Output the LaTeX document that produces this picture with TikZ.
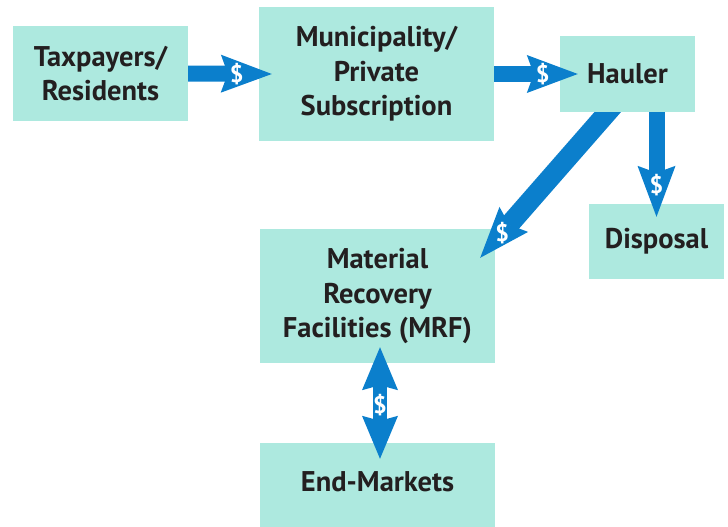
\documentclass[tikz,border=0pt]{standalone}
\usepackage{fontspec}
\setmainfont{PT Sans}
\usetikzlibrary{arrows.meta}
\definecolor{boxfill}{HTML}{ADE9DF}
\definecolor{flowblue}{HTML}{0B7FCC}
\definecolor{ink}{HTML}{231F20}
\tikzset{
  box/.style={fill=boxfill, draw=none, inner sep=0pt, align=center, text=ink,
    font=\fontsize{28.5}{34.5}\selectfont\bfseries},
  flow/.style={draw=flowblue, line width=16pt, -{Stealth[length=51pt, width=38pt, inset=7pt, line width=0pt, fill=flowblue]}},
  dollar/.style={text=white, font=\fontsize{24}{24}\selectfont\bfseries, inner sep=0pt},
}
\begin{document}
\begin{tikzpicture}[x=1pt, y=-1pt]
\useasboundingbox (0,0) rectangle (728,527);
\coordinate (origin) at (0,0);
\coordinate (corner) at (728,527);
% boxes
\node[box, minimum width=175pt, minimum height=95pt] (tax) at (100.5,73.5) {Taxpayers/\\Residents};
\node[box, minimum width=235pt, minimum height=134pt] (muni) at (376.5,74) {Municipality/\\Private\\Subscription};
\node[box, minimum width=135pt, minimum height=76pt] (hauler) at (627.5,74) {Hauler};
\node[box, minimum width=135pt, minimum height=75pt] (disp) at (656.5,241.5) {Disposal};
\node[box, minimum width=235pt, minimum height=134pt] (mrf) at (377.5,296) {Material\\Recovery\\Facilities (MRF)};
\node[box, minimum width=235pt, minimum height=78pt] (end) at (377.5,482) {End-Markets};
\fill[boxfill] (end.south west) rectangle ([yshift=-12pt]end.south east);
% connectors
\draw[flow] (tax.east) -- ([xshift=13pt]muni.west) node[dollar, pos=0.58] (d1) {\$};
\draw[flow] (muni.east) -- ([xshift=18pt]hauler.west) node[dollar, pos=0.58] (d2) {\$};
\draw[flow] (hauler.south -| disp.north) -- ([yshift=-13pt]disp.north) node[dollar, pos=0.695] (d4) {\$};
\begin{scope}
  \clip (hauler.south -| origin) rectangle (corner);
  \draw[flow, line width=20pt] ([xshift=-6.8pt, yshift=15pt]hauler.south) -- ([xshift=-15pt, yshift=-29pt]mrf.north east) node[dollar, pos=0.844] (d3) {\$};
\end{scope}
\draw[draw=flowblue, line width=14pt,
  {Stealth[length=43pt, width=36pt, inset=5pt, line width=0pt, fill=flowblue]}-{Stealth[length=43pt, width=36pt, inset=5pt, line width=0pt, fill=flowblue]}]
  ([xshift=2.5pt, yshift=16pt]mrf.south) -- ([xshift=2.5pt, yshift=-16pt]end.north) node[dollar, pos=0.52] (d5) {\$};
\end{tikzpicture}
\end{document}
